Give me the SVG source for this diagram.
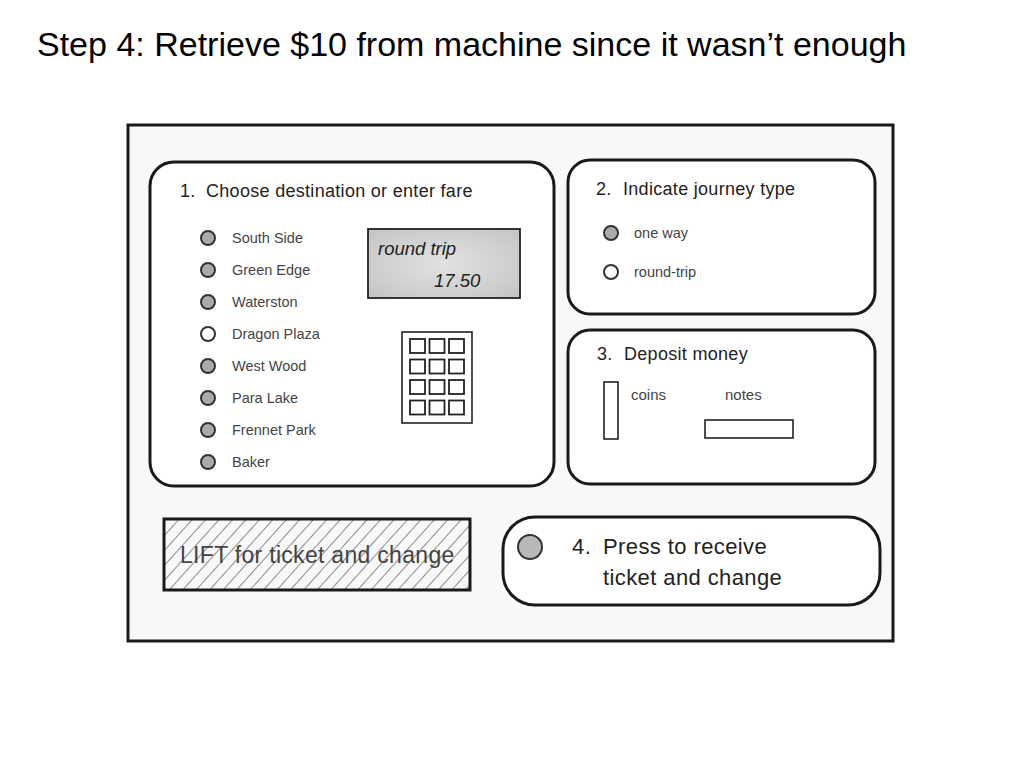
<svg xmlns="http://www.w3.org/2000/svg" width="1024" height="768" viewBox="0 0 1024 768">
<defs>
<style>
text{font-family:"Liberation Sans",Arial,sans-serif;fill:#222}
.panel{fill:#fff;stroke:#1a1a1a;stroke-width:3}
.head{font-size:18px;letter-spacing:0.3px}
.lbl{font-size:14.5px;fill:#444}
.radio{stroke:#333;stroke-width:2}
.on{fill:#aaa}
.off{fill:#fff}
.thin{fill:#fff;stroke:#222;stroke-width:1.6}
.big{font-size:22px;letter-spacing:0.4px}
</style>
<pattern id="hatch" width="10" height="10" patternUnits="userSpaceOnUse" patternTransform="rotate(42)">
<line x1="0" y1="0" x2="0" y2="10" stroke="#333" stroke-width="1.1"/>
</pattern>
<radialGradient id="lcd" cx="0.5" cy="0.5" r="0.7">
<stop offset="0" stop-color="#e2e2e2"/>
<stop offset="1" stop-color="#c4c4c4"/>
</radialGradient>
</defs>
<rect width="1024" height="768" fill="#fff"/>
<text x="37" y="56" style="font-size:34px;fill:#000">Step 4: Retrieve $10 from machine since it wasn’t enough</text>

<g id="machine">
<rect x="128" y="125" width="765" height="516" fill="#f8f8f8" stroke="#1a1a1a" stroke-width="3"/>
</g>

<g id="panel1">
<rect class="panel" x="150" y="162" width="404" height="324" rx="24"/>
<text class="head" x="180" y="197">1.</text>
<text class="head" x="206" y="197">Choose destination or enter fare</text>
<circle class="radio on" cx="208" cy="238" r="7"/><text class="lbl" x="232" y="243">South Side</text>
<circle class="radio on" cx="208" cy="270" r="7"/><text class="lbl" x="232" y="275">Green Edge</text>
<circle class="radio on" cx="208" cy="302" r="7"/><text class="lbl" x="232" y="307">Waterston</text>
<circle class="radio off" cx="208" cy="334" r="7"/><text class="lbl" x="232" y="339">Dragon Plaza</text>
<circle class="radio on" cx="208" cy="366" r="7"/><text class="lbl" x="232" y="371">West Wood</text>
<circle class="radio on" cx="208" cy="398" r="7"/><text class="lbl" x="232" y="403">Para Lake</text>
<circle class="radio on" cx="208" cy="430" r="7"/><text class="lbl" x="232" y="435">Frennet Park</text>
<circle class="radio on" cx="208" cy="462" r="7"/><text class="lbl" x="232" y="467">Baker</text>
<rect x="368" y="229" width="152" height="69" fill="url(#lcd)" stroke="#222" stroke-width="1.8"/>
<text x="378" y="255" style="font-size:18.5px;font-style:italic">round trip</text>
<text x="434" y="287" style="font-size:18.5px;font-style:italic">17.50</text>
<rect class="thin" x="402" y="332" width="70" height="91"/>
<g fill="#fff" stroke="#222" stroke-width="1.8">
<rect x="410" y="339" width="15" height="14"/><rect x="429.5" y="339" width="15" height="14"/><rect x="449" y="339" width="15" height="14"/>
<rect x="410" y="359.5" width="15" height="14"/><rect x="429.5" y="359.5" width="15" height="14"/><rect x="449" y="359.5" width="15" height="14"/>
<rect x="410" y="380" width="15" height="14"/><rect x="429.5" y="380" width="15" height="14"/><rect x="449" y="380" width="15" height="14"/>
<rect x="410" y="400.5" width="15" height="14"/><rect x="429.5" y="400.5" width="15" height="14"/><rect x="449" y="400.5" width="15" height="14"/>
</g>
</g>

<g id="panel2">
<rect class="panel" x="568" y="160" width="307" height="154" rx="22"/>
<text class="head" x="596" y="195">2.</text>
<text class="head" x="623" y="195">Indicate journey type</text>
<circle class="radio on" cx="611" cy="233" r="7"/><text class="lbl" x="634" y="238">one way</text>
<circle class="radio off" cx="611" cy="272" r="7"/><text class="lbl" x="634" y="277">round-trip</text>
</g>

<g id="panel3">
<rect class="panel" x="568" y="330" width="307" height="154" rx="22"/>
<text class="head" x="597" y="360">3.</text>
<text class="head" x="624" y="360">Deposit money</text>
<rect class="thin" x="604" y="382" width="14" height="57"/>
<text class="lbl" x="631" y="400" style="font-size:15px">coins</text>
<text class="lbl" x="725" y="400" style="font-size:15px">notes</text>
<rect class="thin" x="705" y="420" width="88" height="18"/>
</g>

<g id="lift">
<rect x="164" y="519" width="306" height="71" fill="url(#hatch)" stroke="#1a1a1a" stroke-width="3"/>
<text x="180" y="563" style="font-size:23px;letter-spacing:0.3px;fill:#444">LIFT for ticket and change</text>
</g>

<g id="panel4">
<rect class="panel" x="503" y="517" width="377" height="88" rx="32"/>
<circle cx="530" cy="547" r="12" fill="#b8b8b8" stroke="#333" stroke-width="2"/>
<text class="big" x="572" y="554">4.</text>
<text class="big" x="603" y="554">Press to receive</text>
<text class="big" x="603" y="585">ticket and change</text>
</g>

<g id="connectors"></g>
</svg>
